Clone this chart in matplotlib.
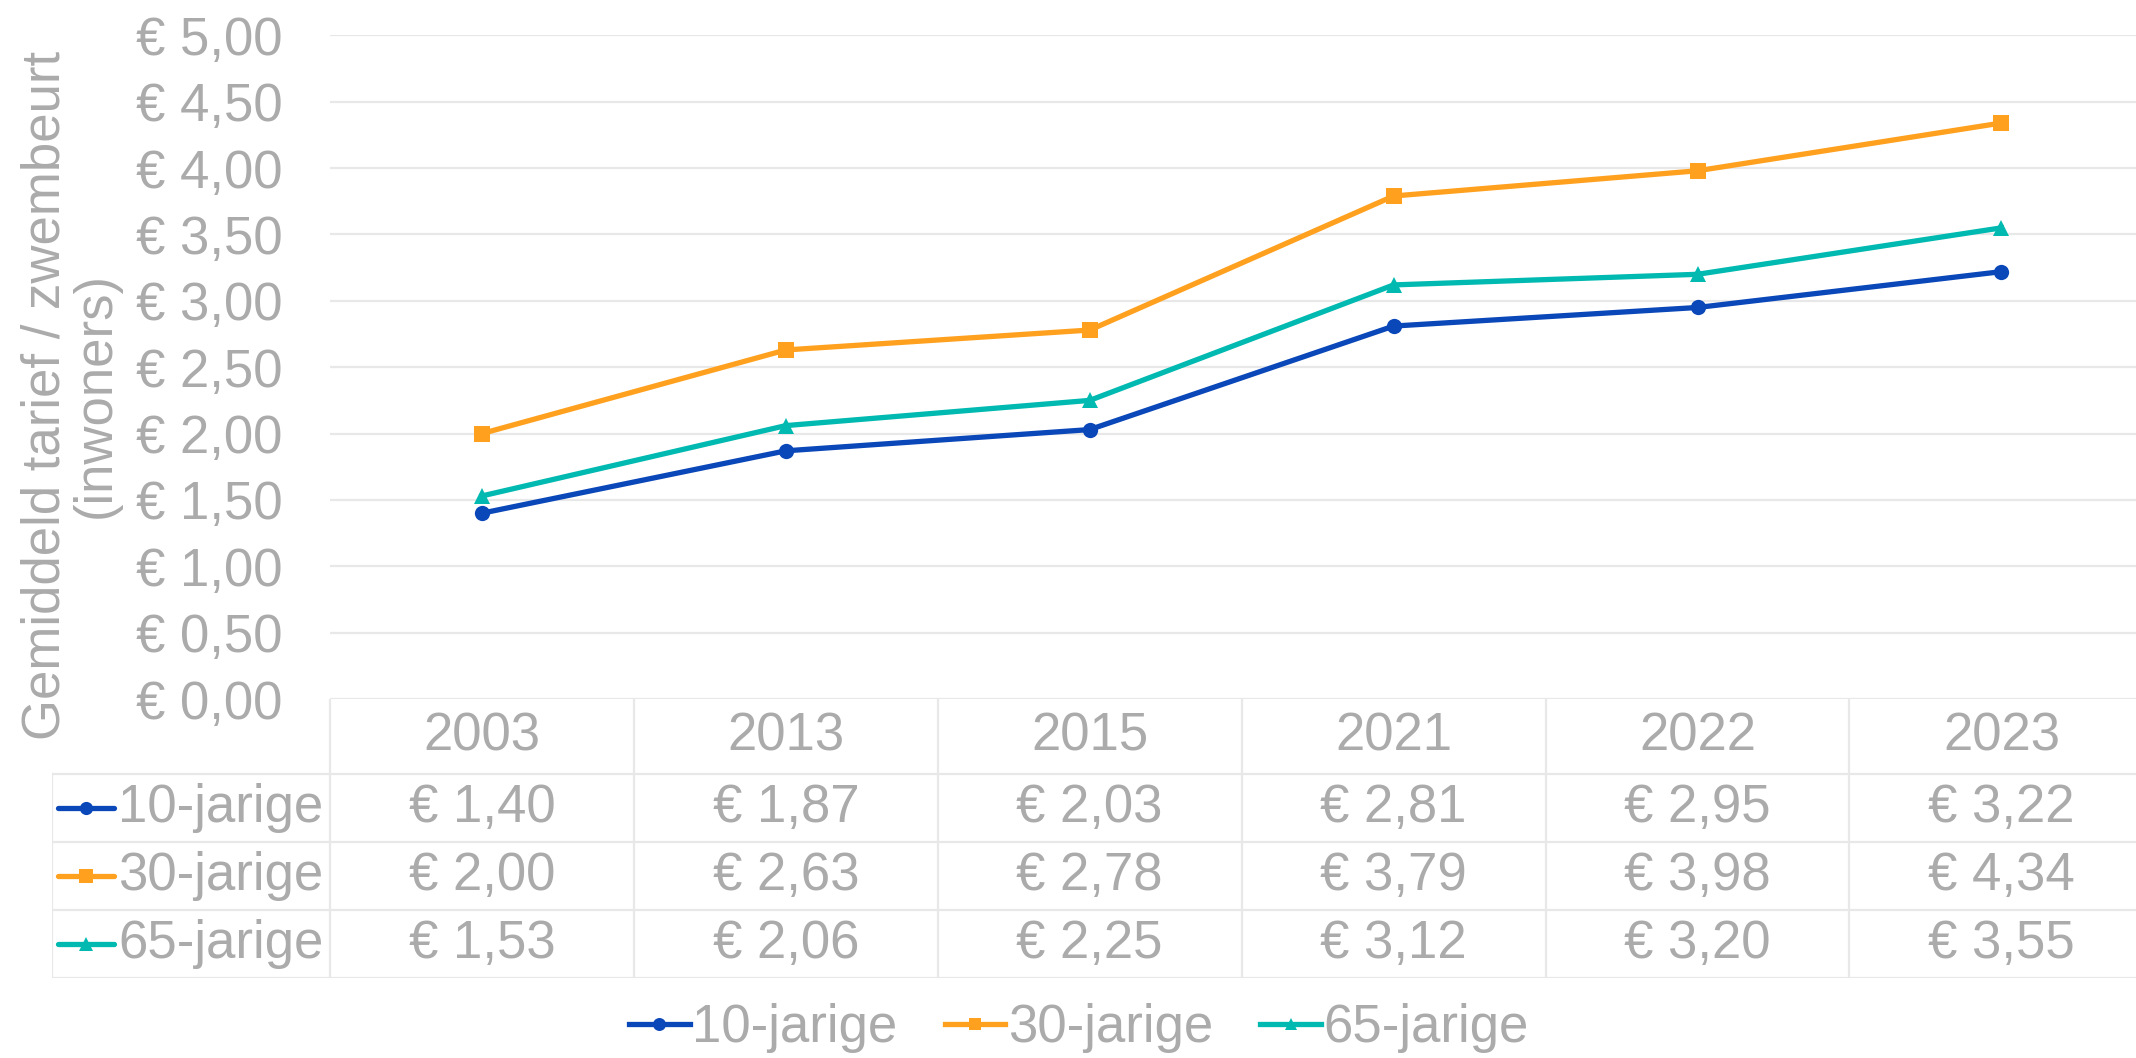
import matplotlib
matplotlib.use('Agg')
from matplotlib import pyplot as plt

plt.rcParams['font.family'] = ['Liberation Sans', 'DejaVu Sans']

years = ['2003', '2013', '2015', '2021', '2022', '2023']
series_names = ['10-jarige', '30-jarige', '65-jarige']
tarief_10 = [1.40, 1.87, 2.03, 2.81, 2.95, 3.22]
tarief_30 = [2.00, 2.63, 2.78, 3.79, 3.98, 4.34]
tarief_65 = [1.53, 2.06, 2.25, 3.12, 3.20, 3.55]

colors = ['#0A47B8', '#FFA01E', '#00B9B0']
markers = ['o', 's', '^']
gray = '#ABABAB'
grid_col = '#E8E8E8'
fs = 38

W, H = 2136, 1058
col_w = 303.9       # pixel width of one year column
plot_left = 330
plot_top, plot_bottom = 35.4, 699
tab_left, tab_bottom = 52, 978
row_edges = [0, 75, 143, 211, 279]   # pixels below the x axis


def euro(v):
    return '€ ' + f'{v:.2f}'.replace('.', ',')


fig = plt.figure(figsize=(W / 100, H / 100), dpi=100)

ax = fig.add_axes([plot_left / W, 1 - plot_bottom / H,
                   6 * col_w / W, (plot_bottom - plot_top) / H])
x = list(range(len(years)))
all_series = [tarief_10, tarief_30, tarief_65]
handles = []
for vals, c, m in zip(all_series, colors, markers):
    ln, = ax.plot(x, vals, color=c, lw=3.8, marker=m, ms=11,
                  markeredgewidth=0, zorder=3)
    handles.append(ln)

ax.set_xlim(-0.5, 5.5)
ax.set_ylim(0, 5)
ax.set_yticks([i * 0.5 for i in range(11)])
ax.set_yticklabels([euro(i * 0.5) for i in range(11)])
ax.set_xticks([])
ax.tick_params(axis='y', length=0, pad=34, labelsize=fs, labelcolor=gray)
ax.grid(axis='y', color=grid_col, lw=1.6)
for s in ax.spines.values():
    s.set_visible(False)

fig.text(71 / W, 1 - 395 / H, 'Gemiddeld tarief / zwembeurt\n(inwoners)',
         rotation=90, ha='center', va='center', fontsize=fs, color=gray,
         linespacing=1.0)

# data table below the chart
tab = fig.add_axes([tab_left / W, 1 - tab_bottom / H,
                    (plot_left + 6 * col_w - tab_left) / W,
                    (tab_bottom - plot_bottom) / H])
xmin = -0.5 - (plot_left - tab_left) / col_w
tab.set_xlim(xmin, 5.5)
tab.set_ylim(row_edges[-1], 0)
tab.axis('off')


def px2x(px):
    return -0.5 + (px - plot_left) / col_w


lw_t = 1.6
for k in range(len(years) + 1):
    tab.plot([k - 0.5, k - 0.5], [0, row_edges[-1]], color=grid_col, lw=lw_t)
tab.plot([xmin, xmin], [row_edges[1], row_edges[-1]], color=grid_col, lw=lw_t)
for y in row_edges[1:]:
    tab.plot([xmin, 5.5], [y, y], color=grid_col, lw=lw_t)

hdr_y = (row_edges[0] + row_edges[1]) / 2
for i, yr in enumerate(years):
    tab.text(i, hdr_y, yr, ha='center', va='center', fontsize=fs, color=gray)

for r, (name, vals, c, m) in enumerate(zip(series_names, all_series, colors, markers)):
    yc = (row_edges[r + 1] + row_edges[r + 2]) / 2
    tab.plot([px2x(58), px2x(114)], [yc, yc], color=c, lw=3.8, solid_capstyle='round')
    tab.plot([px2x(86)], [yc], color=c, marker=m, ms=9.5, markeredgewidth=0)
    tab.text(px2x(118), yc, name, ha='left', va='center', fontsize=fs, color=gray)
    for i, v in enumerate(vals):
        tab.text(i, yc, euro(v), ha='center', va='center', fontsize=fs, color=gray)

fig.legend(handles, series_names, loc='center',
           bbox_to_anchor=(1079 / W, 1 - 1028 / H), ncol=3, frameon=False,
           handlelength=1.14, handletextpad=0.05, columnspacing=0.9,
           fontsize=fs, labelcolor=gray, markerscale=0.85)

fig.savefig('out.png', dpi=100)
